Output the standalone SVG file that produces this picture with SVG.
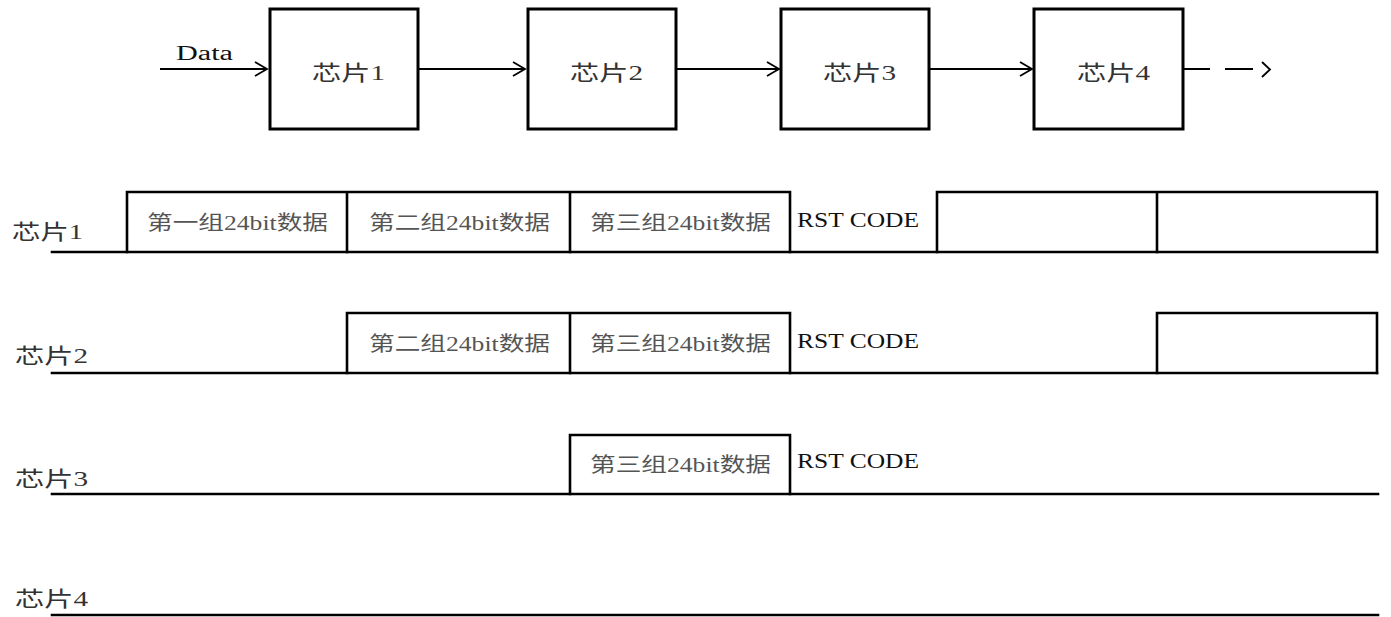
<svg xmlns="http://www.w3.org/2000/svg" width="1391" height="617" viewBox="0 0 1391 617">
<style>
.bg{fill:#fff}
.box{fill:#fff;stroke:#000;stroke-width:3}
.ln{fill:none;stroke:#000;stroke-width:2.6;stroke-linecap:square}
.ar{fill:none;stroke:#000;stroke-width:2}
.hd{fill:none;stroke:#000;stroke-width:1.8;stroke-linejoin:miter}
.cj{font-family:"Liberation Serif","Noto Sans CJK SC",serif;fill:#333;font-size:21px}
.cell{font-family:"Liberation Serif","Noto Sans CJK SC",serif;fill:#555;font-size:20px}
.rst{font-family:"Liberation Serif",serif;fill:#111;font-size:22px}
.en{font-family:"Liberation Serif",serif;fill:#111;font-size:20px}
</style>
<defs>
<marker id="chev" markerUnits="userSpaceOnUse" markerWidth="16" markerHeight="18" refX="13" refY="8" orient="auto">
<path d="M1,1 L13,8 L1,15" fill="none" stroke="#000" stroke-width="1.8"/>
</marker>
</defs>
<rect class="bg" x="0" y="0" width="1391" height="617"/>

<g id="connectors">
<line class="ar" x1="160" y1="69" x2="267" y2="69" marker-end="url(#chev)"/>
<line class="ar" x1="418" y1="69" x2="525" y2="69" marker-end="url(#chev)"/>
<line class="ar" x1="676" y1="69" x2="779" y2="69" marker-end="url(#chev)"/>
<line class="ar" x1="929" y1="69" x2="1032" y2="69" marker-end="url(#chev)"/>
<line class="ar" x1="1183" y1="69" x2="1210" y2="69"/>
<line class="ar" x1="1225" y1="69" x2="1253" y2="69"/>
<path class="hd" d="M1262,62 L1270,69.5 L1262,77"/>
<text class="en" x="176" y="60" textLength="57" lengthAdjust="spacingAndGlyphs">Data</text>
</g>

<g id="chip1">
<rect class="box" x="270" y="9" width="148" height="120"/>
<text class="cj" x="312" y="80" textLength="73" lengthAdjust="spacingAndGlyphs">芯片1</text>
</g>
<g id="chip2">
<rect class="box" x="528" y="9" width="148" height="120"/>
<text class="cj" x="570" y="80" textLength="73" lengthAdjust="spacingAndGlyphs">芯片2</text>
</g>
<g id="chip3">
<rect class="box" x="781" y="9" width="148" height="120"/>
<text class="cj" x="823" y="80" textLength="73" lengthAdjust="spacingAndGlyphs">芯片3</text>
</g>
<g id="chip4">
<rect class="box" x="1034" y="9" width="149" height="120"/>
<text class="cj" x="1077" y="80" textLength="73" lengthAdjust="spacingAndGlyphs">芯片4</text>
</g>

<g id="row1">
<text class="cj" x="12" y="239" textLength="71" lengthAdjust="spacingAndGlyphs">芯片1</text>
<line class="ln" x1="52" y1="252" x2="1377" y2="252"/>
<path class="ln" d="M127,252 V192 H790 V252 M347,192 V252 M570,192 V252 M937,252 V192 H1377 V252 M1157,192 V252"/>
<text class="cell" x="147" y="230" textLength="181" lengthAdjust="spacingAndGlyphs">第一组24bit数据</text>
<text class="cell" x="369" y="230" textLength="181" lengthAdjust="spacingAndGlyphs">第二组24bit数据</text>
<text class="cell" x="590" y="230" textLength="181" lengthAdjust="spacingAndGlyphs">第三组24bit数据</text>
<text class="rst" x="797" y="227" textLength="122" lengthAdjust="spacingAndGlyphs">RST CODE</text>
</g>

<g id="row2">
<text class="cj" x="15" y="363" textLength="73" lengthAdjust="spacingAndGlyphs">芯片2</text>
<line class="ln" x1="52" y1="373" x2="1377" y2="373"/>
<path class="ln" d="M347,373 V313 H790 V373 M570,313 V373 M1157,373 V313 H1377 V373"/>
<text class="cell" x="369" y="351" textLength="181" lengthAdjust="spacingAndGlyphs">第二组24bit数据</text>
<text class="cell" x="590" y="351" textLength="181" lengthAdjust="spacingAndGlyphs">第三组24bit数据</text>
<text class="rst" x="797" y="348" textLength="122" lengthAdjust="spacingAndGlyphs">RST CODE</text>
</g>

<g id="row3">
<text class="cj" x="15" y="486" textLength="73" lengthAdjust="spacingAndGlyphs">芯片3</text>
<line class="ln" x1="52" y1="494" x2="1378" y2="494"/>
<path class="ln" d="M570,494 V435 H790 V494"/>
<text class="cell" x="590" y="472" textLength="181" lengthAdjust="spacingAndGlyphs">第三组24bit数据</text>
<text class="rst" x="797" y="468" textLength="122" lengthAdjust="spacingAndGlyphs">RST CODE</text>
</g>

<g id="row4">
<text class="cj" x="15" y="606" textLength="73" lengthAdjust="spacingAndGlyphs">芯片4</text>
<line class="ln" x1="52" y1="615" x2="1378" y2="615"/>
</g>
</svg>
